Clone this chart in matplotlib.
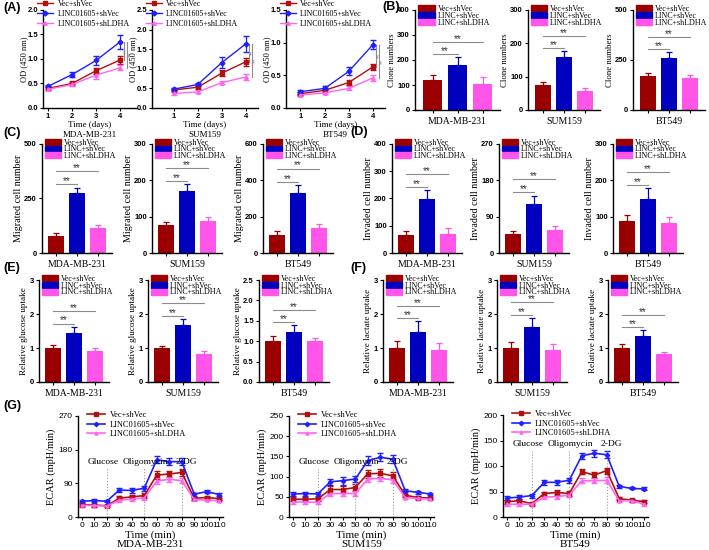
import numpy as np
import matplotlib
matplotlib.use("Agg")
import matplotlib.pyplot as plt
from matplotlib.patches import Patch
from matplotlib.lines import Line2D

plt.rcParams["font.family"] = "Liberation Serif"

cells = ["MDA-MB-231", "SUM159", "BT549"]
groups_long = ["Vec+shVec", "LINC01605+shVec", "LINC01605+shLDHA"]
groups_short = ["Vec+shVec", "LINC+shVec", "LINC+shLDHA"]

# (A) OD 450 nm, days 1-4
days = [1, 2, 3, 4]
od_vec = [[0.40, 0.50, 0.76, 0.98], [0.46, 0.53, 0.89, 1.18], [0.22, 0.27, 0.39, 0.63]]
od_vec_err = [[0.03, 0.04, 0.06, 0.08], [0.03, 0.05, 0.08, 0.10], [0.02, 0.02, 0.04, 0.05]]
od_linc = [[0.44, 0.68, 0.97, 1.35], [0.48, 0.60, 1.16, 1.64], [0.25, 0.30, 0.56, 0.97]]
od_linc_err = [[0.02, 0.05, 0.09, 0.14], [0.03, 0.05, 0.15, 0.20], [0.03, 0.03, 0.06, 0.07]]
od_ldha = [[0.38, 0.48, 0.67, 0.82], [0.37, 0.41, 0.65, 0.79], [0.20, 0.23, 0.30, 0.46]]
od_ldha_err = [[0.02, 0.03, 0.07, 0.05], [0.04, 0.04, 0.05, 0.08], [0.02, 0.02, 0.03, 0.04]]
od_ymax = [2.0, 2.5, 1.5]

# (B)-(F) bar charts: rows = cell lines, cols = groups
clone = [[120, 180, 105], [75, 158, 58], [168, 260, 158]]
clone_err = [[20, 30, 27], [10, 20, 8], [18, 28, 17]]
clone_ticks = [[0, 100, 200, 300, 400], [0, 100, 200, 300], [0, 250, 500]]

migrated = [[80, 275, 115], [78, 172, 88], [100, 330, 135]]
migrated_err = [[12, 25, 12], [8, 18, 10], [20, 45, 25]]
migrated_ticks = [[0, 250, 500], [0, 100, 200, 300], [0, 200, 400, 600]]

invaded = [[65, 198, 68], [48, 122, 58], [88, 148, 82]]
invaded_err = [[15, 32, 22], [6, 20, 8], [16, 30, 16]]
invaded_ticks = [[0, 100, 200, 300, 400], [0, 90, 180, 270], [0, 100, 200, 300]]

glucose = [[1.0, 1.43, 0.92], [1.0, 1.68, 0.82], [1.0, 1.22, 1.0]]
glucose_err = [[0.10, 0.20, 0.08], [0.06, 0.18, 0.08], [0.13, 0.17, 0.09]]
glucose_ticks = [[0, 1, 2, 3], [0, 1, 2, 3], [0.0, 0.5, 1.0, 1.5, 2.0, 2.5]]

lactate = [[1.0, 1.48, 0.95], [1.0, 1.63, 0.93], [1.0, 1.36, 0.81]]
lactate_err = [[0.20, 0.30, 0.20], [0.17, 0.26, 0.20], [0.12, 0.16, 0.08]]
lactate_ticks = [[0, 1, 2, 3], [0, 1, 2, 3], [0, 1, 2, 3]]

# (G) ECAR
minutes = [0, 10, 20, 30, 40, 50, 60, 70, 80, 90, 100, 110]
ecar_vec = [[33, 32, 30, 50, 54, 57, 112, 115, 119, 50, 52, 49],
            [44, 44, 45, 68, 68, 73, 107, 108, 102, 54, 48, 47],
            [30, 32, 26, 46, 48, 46, 89, 82, 91, 36, 33, 30]]
ecar_vec_err = [[4, 4, 3, 5, 6, 6, 10, 9, 9, 4, 3, 3],
                [5, 5, 5, 8, 8, 8, 10, 10, 9, 4, 3, 3],
                [4, 4, 3, 4, 5, 5, 5, 6, 6, 3, 3, 3]]
ecar_linc = [[42, 44, 42, 72, 71, 77, 153, 148, 148, 61, 68, 60],
             [57, 58, 57, 87, 90, 94, 139, 148, 143, 65, 61, 57],
             [37, 39, 42, 68, 68, 72, 120, 125, 122, 60, 56, 55]]
ecar_linc_err = [[3, 4, 3, 6, 7, 7, 9, 10, 9, 4, 4, 3],
                 [5, 5, 5, 8, 10, 8, 11, 10, 10, 4, 3, 3],
                 [4, 4, 4, 5, 5, 5, 6, 7, 7, 3, 2, 3]]
ecar_ldha = [[31, 31, 29, 45, 48, 51, 96, 101, 97, 47, 45, 43],
             [37, 37, 36, 58, 58, 58, 94, 96, 92, 48, 46, 44],
             [25, 25, 25, 39, 40, 43, 71, 71, 72, 32, 32, 25]]
ecar_ldha_err = [[3, 3, 3, 5, 5, 5, 8, 7, 7, 3, 3, 3],
                 [4, 4, 4, 6, 6, 6, 8, 7, 7, 3, 3, 3],
                 [3, 3, 3, 4, 4, 4, 5, 5, 6, 3, 3, 3]]
ecar_ticks = [[0, 90, 180, 270], [0, 50, 100, 150, 200, 250], [0, 50, 100, 150, 200]]
inject_time = [20, 50, 80]
inject_names = ["Glucose", "Oligomycin", "2-DG"]

bar_colors = ["#9b0000", "#0000bf", "#ff55e8"]
line_colors = ["#b40f0f", "#1f1fff", "#ff66ee"]
line_markers = ["s", "D", "^"]
sig_color = "#8c8c8c"

W, H = 709, 550
fig = plt.figure(figsize=(W / 100, H / 100), dpi=100)


def px_axes(left, top, right, bottom):
    return fig.add_axes([left / W, 1 - bottom / H, (right - left) / W, (bottom - top) / H])


def style_ticks(ax, size=5.5, bold=True, family="Liberation Sans", pad=1.2):
    ax.tick_params(length=2.5, width=0.8, pad=pad, labelsize=size)
    for lab in ax.get_xticklabels() + ax.get_yticklabels():
        lab.set_fontfamily(family)
        if bold:
            lab.set_fontweight("bold")


def clean_spines(ax):
    for s in ["top", "right"]:
        ax.spines[s].set_visible(False)
    for s in ["left", "bottom"]:
        ax.spines[s].set_linewidth(1.0)


def bar_panel(box, vals, errs, ticks, ylabel, cell, ylfs, xl=(-0.7, 2.7), bw=0.78, fmt=None):
    ax = px_axes(*box)
    x = np.arange(3)
    ax.bar(x, vals, width=bw, color=bar_colors, zorder=2)
    for i in range(3):
        ax.errorbar(x[i], vals[i], yerr=[[0], [errs[i]]], color=bar_colors[i],
                    capsize=2.5, elinewidth=0.9, capthick=0.9, zorder=3)
    ymax = ticks[-1]
    ax.set_ylim(0, ymax)
    ax.set_xlim(*xl)
    ax.set_yticks(ticks)
    if fmt:
        ax.set_yticklabels([fmt % t for t in ticks])
    ax.set_xticks(x)
    ax.set_xticklabels([])
    clean_spines(ax)
    style_ticks(ax)
    ax.set_ylabel(ylabel, fontsize=ylfs, labelpad=1)
    ax.set_xlabel(cell, fontsize=7, labelpad=1)
    # significance brackets
    short_y = max(vals[0] + errs[0], vals[1] + errs[1]) + 0.03 * ymax
    long_y = short_y + 0.12 * ymax
    for xe, yy in [(x[1], short_y), (x[2], long_y)]:
        ax.plot([x[0], xe], [yy, yy], color=sig_color, lw=0.8, clip_on=False)
        ax.text((x[0] + xe) / 2, yy, "**", ha="center", va="baseline", fontsize=7,
                fontfamily="Liberation Sans", color="#333333")
    handles = [Patch(color=c) for c in bar_colors]
    ax.legend(handles, groups_short, loc="upper left", bbox_to_anchor=(0.04, 1.05),
              frameon=False, fontsize=5.8, handlelength=2.0, handleheight=0.75,
              handletextpad=0.4, labelspacing=-0.15, borderpad=0, borderaxespad=0)
    return ax


# ---------- (A) ----------
a_boxes = [(43, 10, 137, 108), (152, 10, 258, 108), (286, 10, 385, 108)]
a_xlims = [(0.8, 4.7), (0.1, 4.5), (0.4, 4.5)]
for k in range(3):
    ax = px_axes(*a_boxes[k])
    series = [(od_vec[k], od_vec_err[k]), (od_linc[k], od_linc_err[k]), (od_ldha[k], od_ldha_err[k])]
    for j, (v, e) in enumerate(series):
        ax.errorbar(days, v, yerr=e, color=line_colors[j], marker=line_markers[j], ms=2.5,
                    lw=1.0, capsize=2, elinewidth=0.9)
    yt = np.arange(0, od_ymax[k] + 0.01, 0.5)
    ax.set_ylim(0, od_ymax[k])
    ax.set_yticks(yt)
    ax.set_yticklabels(["%.1f" % t for t in yt])
    ax.set_xlim(*a_xlims[k])
    ax.set_xticks(days)
    clean_spines(ax)
    style_ticks(ax, pad=0.8)
    ax.set_ylabel("OD (450 nm)", fontsize=6, labelpad=-0.5)
    ax.set_xlabel("Time (days)\n" + cells[k], fontsize=6.5, labelpad=1, linespacing=1.3)
    top = od_linc[k][-1]
    for off, low in [(0.14, od_vec[k][-1]), (0.27, od_ldha[k][-1])]:
        ax.plot([days[-1] + off] * 2, [top, low], color=sig_color, lw=0.8, clip_on=False)
        ax.text(days[-1] + off + 0.01, (top + low) / 2, "**", rotation=90, ha="left", va="center",
                fontsize=4.8, color=sig_color, fontfamily="Liberation Sans", clip_on=False)
    hl = [Line2D([], [], color=line_colors[j], marker=line_markers[j], ms=2.5, lw=1.0) for j in range(3)]
    ax.legend(hl, groups_long, loc="upper left", bbox_to_anchor=(-0.06, 1.1), frameon=False,
              fontsize=5.8, handlelength=2.0, handletextpad=0.5, labelspacing=0.25,
              borderpad=0, borderaxespad=0)

# ---------- (B) ----------
b_boxes = [(415, 10, 500, 110), (528, 10, 600, 110), (633, 10, 705, 110)]
for k in range(3):
    bar_panel(b_boxes[k], clone[k], clone_err[k], clone_ticks[k], "Clone numbers", cells[k], 6.3)

# ---------- (C) / (D) ----------
c_boxes = [(42, 144, 112, 253), (152, 144, 222, 253), (263, 144, 333, 253)]
d_boxes = [(392, 144, 462, 253), (499, 144, 569, 253), (613, 144, 683, 253)]
for k in range(3):
    bar_panel(c_boxes[k], migrated[k], migrated_err[k], migrated_ticks[k],
              "Migrated cell number", cells[k], 7.2)
    bar_panel(d_boxes[k], invaded[k], invaded_err[k], invaded_ticks[k],
              "Invaded cell number", cells[k], 7.2)

# ---------- (E) / (F) ----------
e_boxes = [(39, 280, 109, 382), (148, 280, 218, 382), (259, 280, 329, 382)]
f_boxes = [(383, 280, 453, 382), (497, 280, 567, 382), (608, 280, 678, 382)]
for k in range(3):
    bar_panel(e_boxes[k], glucose[k], glucose_err[k], glucose_ticks[k],
              "Relative glucose uptake", cells[k], 6.6, fmt="%.1f" if k == 2 else None)
    bar_panel(f_boxes[k], lactate[k], lactate_err[k], lactate_ticks[k],
              "Relative lactate uptake", cells[k], 6.6)

# ---------- (G) ----------
g_boxes = [(78, 416, 223, 517), (289, 416, 434, 517), (503, 415, 648, 517)]
g_text_frac = [0.545, 0.545, 0.72]
g_text_shift = [-3, 1, 4]
for k in range(3):
    ax = px_axes(*g_boxes[k])
    series = [(ecar_vec[k], ecar_vec_err[k]), (ecar_linc[k], ecar_linc_err[k]),
              (ecar_ldha[k], ecar_ldha_err[k])]
    for j in [0, 2, 1]:
        v, e = series[j]
        ax.errorbar(minutes, v, yerr=e, color=line_colors[j], marker=line_markers[j], ms=2.2,
                    lw=1.2, capsize=2, elinewidth=0.9)
    ymax = ecar_ticks[k][-1]
    ax.set_ylim(0, ymax)
    ax.set_yticks(ecar_ticks[k])
    ax.set_xlim(-3, 113)
    ax.set_xticks(minutes)
    clean_spines(ax)
    style_ticks(ax, size=6, bold=False)
    for t, name, sh in zip(inject_time, inject_names, g_text_shift):
        ax.plot([t, t], [0, (g_text_frac[k] - 0.06) * ymax], color="#999999", lw=0.8, ls=":")
        ax.text(t + sh, g_text_frac[k] * ymax, name, ha="center", va="center", fontsize=6.8)
    ax.set_ylabel("ECAR (mpH/min)", fontsize=7.5, labelpad=2)
    ax.set_xlabel("Time (min)\n" + cells[k], fontsize=8, labelpad=1, linespacing=0.95)
    hl = [Line2D([], [], color=line_colors[j], marker=line_markers[j], ms=2.2, lw=1.2) for j in range(3)]
    ax.legend(hl, groups_long, loc="upper left", bbox_to_anchor=(0.06, 1.05), frameon=False,
              fontsize=6, handlelength=2.2, handletextpad=0.6, labelspacing=0.2,
              borderpad=0, borderaxespad=0)

# panel letters
for letter, (x, y) in {"(A)": (3, 2), "(B)": (382, 1), "(C)": (3, 127), "(D)": (350, 126),
                       "(E)": (3, 262), "(F)": (350, 262), "(G)": (3, 400)}.items():
    fig.text(x / W, 1 - y / H, letter, fontsize=9, fontweight="bold", fontfamily="Liberation Sans",
             ha="left", va="top")

fig.savefig("out.png", dpi=100)
